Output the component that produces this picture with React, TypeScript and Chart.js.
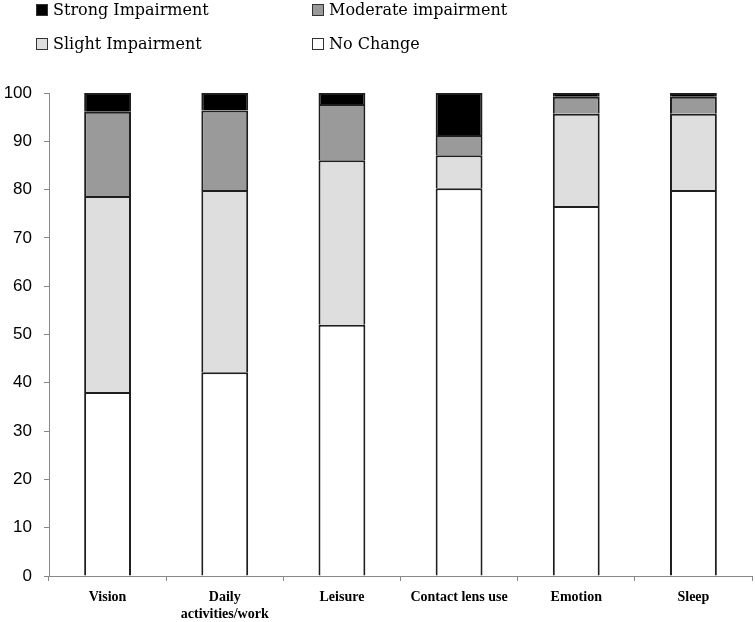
import React, { useEffect, useRef } from 'react';
import { Chart, registerables } from 'chart.js';

Chart.register(...registerables);

const categories = ['Vision', ['Daily', 'activities/work'], 'Leisure', 'Contact lens use', 'Emotion', 'Sleep'];
const noChange = [38.1, 42.2, 52.0, 80.3, 76.6, 79.9];
const slight = [40.6, 37.7, 34.1, 6.8, 19.1, 15.8];
const moderate = [17.4, 16.5, 11.6, 4.2, 3.5, 3.5];
const strong = [3.9, 3.6, 2.3, 8.7, 0.8, 0.8];
const yTicks = { min: 0, max: 100, step: 10 };

const legendItems = [
  { label: 'Strong Impairment', color: '#000000', left: 36, top: 0 },
  { label: 'Moderate impairment', color: '#9a9a9a', left: 312, top: 0 },
  { label: 'Slight Impairment', color: '#dedede', left: 36, top: 34 },
  { label: 'No Change', color: '#ffffff', left: 312, top: 34 },
];

const App = () => {
  const canvasRef = useRef<HTMLCanvasElement>(null);

  useEffect(() => {
    document.body.style.margin = '0';
    const canvas = canvasRef.current;
    let chart: Chart | null = null;

    const ds = (label: string, data: number[], color: string) => ({
      label,
      data,
      backgroundColor: color,
      borderColor: '#1e1e1e',
      borderWidth: 2,
      barPercentage: 0.4,
      categoryPercentage: 1,
    });

    if (canvas) {
      chart = new Chart(canvas, {
        type: 'bar',
        data: {
          labels: categories as any,
          datasets: [
            ds('No Change', noChange, '#ffffff'),
            ds('Slight Impairment', slight, '#dedede'),
            ds('Moderate impairment', moderate, '#9a9a9a'),
            ds('Strong Impairment', strong, '#000000'),
          ],
        },
        options: {
          responsive: false,
          animation: false,
          layout: { padding: { top: 93, right: 3, left: 0, bottom: 0 } },
          plugins: {
            legend: { display: false },
            tooltip: { enabled: false },
          },
          scales: {
            x: {
              stacked: true,
              afterFit: (axis: any) => {
                axis.height = 46;
              },
              border: { color: '#888888', width: 1 },
              grid: { offset: true, drawOnChartArea: false, tickLength: 5, color: '#888888' },
              ticks: {
                color: '#000000',
                padding: 8,
                maxRotation: 0,
                autoSkip: false,
                font: { family: 'Liberation Serif', size: 14, weight: 'bold', lineHeight: 1.2 },
              },
            },
            y: {
              stacked: true,
              min: yTicks.min,
              max: yTicks.max,
              afterFit: (axis: any) => {
                axis.width = 49;
              },
              border: { color: '#888888', width: 1 },
              grid: { drawOnChartArea: false, tickLength: 5, color: '#888888' },
              ticks: {
                stepSize: yTicks.step,
                color: '#000000',
                padding: 12,
                font: { family: 'Liberation Sans', size: 17 },
              },
            },
          },
        },
      });
    }

    return () => {
      if (chart) {
        chart.destroy();
      }
    };
  }, []);

  return (
    <div style={{ position: 'relative', width: 755, height: 622, background: '#fff' }}>
      <canvas ref={canvasRef} width={755} height={622} style={{ display: 'block' }}></canvas>
      {legendItems.map((item) => (
        <div
          key={item.label}
          style={{
            position: 'absolute',
            left: item.left,
            top: item.top,
            display: 'flex',
            alignItems: 'center',
            fontFamily: 'DejaVu Serif',
            fontSize: 16,
            lineHeight: '20px',
            color: '#000',
          }}
        >
          <span
            style={{
              display: 'inline-block',
              width: 10,
              height: 10,
              background: item.color,
              border: '1px solid #333',
              marginRight: 5,
            }}
          ></span>
          {item.label}
        </div>
      ))}
    </div>
  );
};

export default App;
